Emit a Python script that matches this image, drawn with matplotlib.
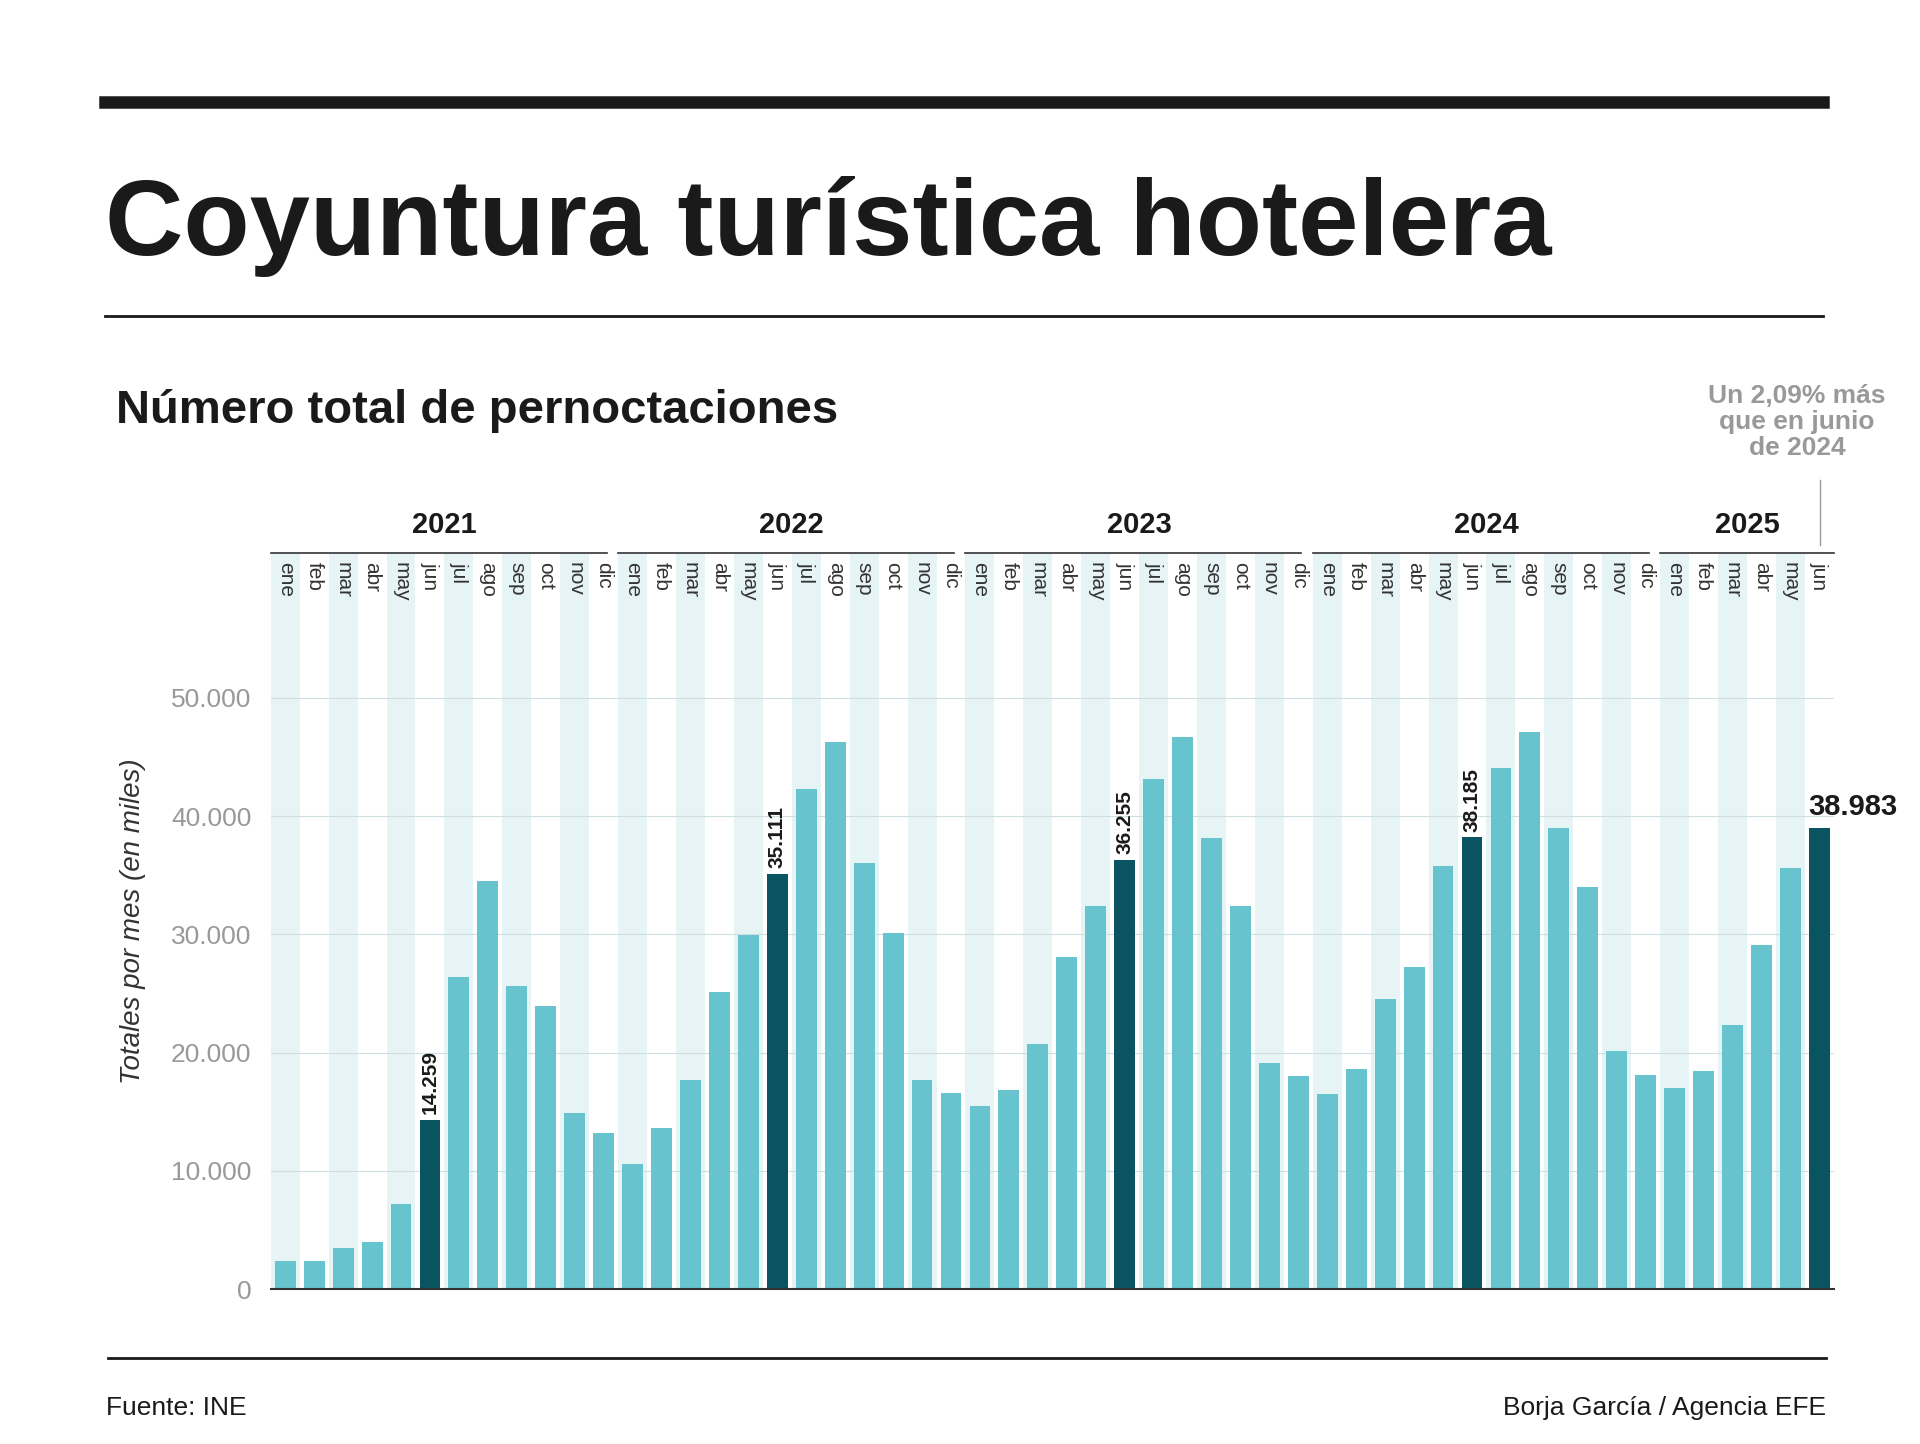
import matplotlib.pyplot as plt
import numpy as np

years = ["2021", "2022", "2023", "2024", "2025"]
months = ["ene", "feb", "mar", "abr", "may", "jun", "jul", "ago", "sep", "oct", "nov", "dic"]
v2021 = [2400, 2400, 3500, 4000, 7200, 14259, 26400, 34500, 25600, 23900, 14900, 13200]
v2022 = [10600, 13600, 17700, 25100, 29900, 35111, 42300, 46300, 36000, 30100, 17700, 16600]
v2023 = [15500, 16800, 20700, 28100, 32400, 36255, 43100, 46700, 38100, 32400, 19100, 18000]
v2024 = [16500, 18600, 24500, 27200, 35800, 38185, 44100, 47100, 39000, 34000, 20100, 18100]
v2025 = [17000, 18400, 22300, 29100, 35600, 38983]
highlight = {5: "14.259", 17: "35.111", 29: "36.255", 41: "38.185", 53: "38.983"}
yticks = [0, 10000, 20000, 30000, 40000, 50000]
ytick_labels = ["0", "10.000", "20.000", "30.000", "40.000", "50.000"]

values = v2021 + v2022 + v2023 + v2024 + v2025
labels = (months * 5)[:len(values)]
x = np.arange(len(values))

W, H = 1560, 1174  # reference display units
def fx(px): return px / W
def fy(py): return 1 - py / H

LIGHT = "#67c3cd"
DARK = "#0a5461"
STRIPE = "#e6f4f5"
NARROW = "Liberation Sans"

plt.rcParams["font.family"] = "Liberation Sans"
fig = plt.figure(figsize=(19.2, 14.44), dpi=100)
fig.patch.set_facecolor("white")

# rules and titles
fig.add_artist(plt.Line2D([fx(85), fx(1481)], [fy(83)] * 2, color="#1a1a1a", lw=9))
fig.add_artist(plt.Line2D([fx(85), fx(1481)], [fy(257)] * 2, color="#1a1a1a", lw=2))
fig.add_artist(plt.Line2D([fx(88), fx(1484)], [fy(1104)] * 2, color="#1a1a1a", lw=2))
fig.text(fx(85), fy(207), "Coyuntura turística hotelera", fontsize=78, fontweight="bold",
         color="#1a1a1a", va="baseline")
fig.text(fx(94), fy(344), "Número total de pernoctaciones", fontsize=34, fontweight="bold",
         color="#1a1a1a", va="baseline")
fig.text(fx(86), fy(1145), "Fuente: INE", fontsize=19, color="#1a1a1a", va="center")
fig.text(fx(1484), fy(1145), "Borja García / Agencia EFE", fontsize=19, color="#1a1a1a",
         va="center", ha="right")
fig.text(fx(1460), fy(343), "Un 2,09% más\nque en junio\nde 2024", fontsize=19,
         fontweight="bold", color="#999999", ha="center", va="center", linespacing=1.1)
fig.add_artist(plt.Line2D([fx(1479), fx(1479)], [fy(390), fy(443)], color="#999999", lw=1))

ax = fig.add_axes([fx(220), fy(1048), fx(1490) - fx(220), fy(450) - fy(1048)])
ymax = 62200
ax.set_xlim(-0.5, len(values) - 0.5)
ax.set_ylim(0, ymax)
for i in range(len(values)):
    if i % 2 == 0:
        ax.axvspan(i - 0.5, i + 0.5, color=STRIPE, lw=0, zorder=0)
for t in yticks[1:]:
    ax.axhline(t, color="#cfdfe0", lw=0.8, zorder=1)
colors = [DARK if i in highlight else LIGHT for i in x]
ax.bar(x, values, width=0.72, color=colors, zorder=2)
for i, txt in highlight.items():
    if i == len(values) - 1:
        ax.text(i - 0.4, values[i] + 600, txt, fontsize=21, fontweight="bold",
                ha="left", va="bottom", color="#1a1a1a", family=NARROW)
    else:
        ax.text(i, values[i] + 500, txt, fontsize=15, fontweight="bold", rotation=90,
                ha="center", va="bottom", color="#1a1a1a", family=NARROW)
for i, m in enumerate(labels):
    ax.text(i, ymax - 700, m, rotation=270, ha="center", va="top", fontsize=15,
            color="#333333", family=NARROW)
for spine in ["top", "right", "left"]:
    ax.spines[spine].set_visible(False)
ax.spines["bottom"].set_color("#333333")
ax.spines["bottom"].set_linewidth(1.5)
ax.set_xticks([])
ax.set_yticks(yticks)
ax.set_yticklabels(ytick_labels, fontsize=19, color="#999999", family=NARROW)
ax.tick_params(axis="y", length=0, pad=14)
ax.set_ylabel("Totales por mes (en miles)", fontsize=20, style="italic", color="#333333",
              family=NARROW, labelpad=18)

# year labels and brackets
for k, yr in enumerate(years):
    start = k * 12
    end = min(start + 11, len(values) - 1)
    ax.plot([start - 0.5, end + 0.5 - (0.4 if k < 4 else 0)], [ymax] * 2,
            color="#333333", lw=1.2, clip_on=False)
    ax.text((start + end) / 2, ymax * 1.02, yr, fontsize=21, fontweight="bold",
            ha="center", va="bottom", color="#1a1a1a", family=NARROW)

fig.savefig("out.png", dpi=100)
